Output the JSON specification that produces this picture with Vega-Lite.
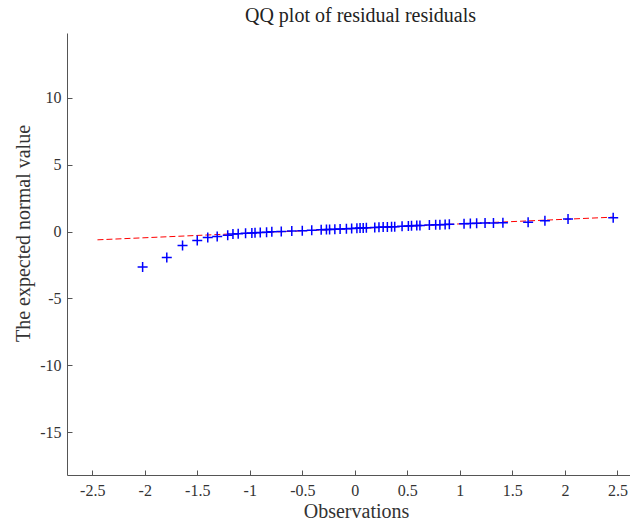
{
  "$schema": "https://vega.github.io/schema/vega-lite/v6.json",
  "width": 563,
  "height": 442,
  "autosize": "none",
  "padding": {"left": 67, "top": 33, "right": 0, "bottom": 46},
  "background": "white",
  "title": {
    "text": "QQ plot of residual residuals",
    "font": "Liberation Serif",
    "fontSize": 20,
    "fontWeight": "normal",
    "color": "#222222",
    "offset": 7,
    "dx": 12
  },
  "config": {
    "view": {"stroke": null},
    "axis": {
      "grid": false,
      "domainColor": "#555555",
      "tickColor": "#555555",
      "tickSize": -5,
      "labelFont": "Liberation Serif",
      "labelFontSize": 16,
      "labelColor": "#333333",
      "titleFont": "Liberation Serif",
      "titleFontSize": 20,
      "titleFontWeight": "normal",
      "titleColor": "#333333"
    }
  },
  "datasets": {
    "pts": [
      {"x": -2.02, "y": -2.65}, {"x": -1.79, "y": -1.94}, {"x": -1.64, "y": -1.04},
      {"x": -1.50, "y": -0.67}, {"x": -1.40, "y": -0.45}, {"x": -1.31, "y": -0.36},
      {"x": -1.21, "y": -0.28}, {"x": -1.16, "y": -0.18}, {"x": -1.11, "y": -0.16},
      {"x": -1.04, "y": -0.13}, {"x": -0.98, "y": -0.10}, {"x": -0.95, "y": -0.08},
      {"x": -0.90, "y": -0.06}, {"x": -0.84, "y": -0.04}, {"x": -0.79, "y": -0.02},
      {"x": -0.70, "y": 0.01}, {"x": -0.60, "y": 0.04}, {"x": -0.50, "y": 0.07},
      {"x": -0.41, "y": 0.10}, {"x": -0.32, "y": 0.13}, {"x": -0.27, "y": 0.15},
      {"x": -0.24, "y": 0.16}, {"x": -0.19, "y": 0.18}, {"x": -0.14, "y": 0.19},
      {"x": -0.08, "y": 0.21}, {"x": -0.03, "y": 0.23}, {"x": 0.02, "y": 0.25},
      {"x": 0.05, "y": 0.26}, {"x": 0.08, "y": 0.27}, {"x": 0.11, "y": 0.28},
      {"x": 0.19, "y": 0.31}, {"x": 0.23, "y": 0.32}, {"x": 0.27, "y": 0.34},
      {"x": 0.31, "y": 0.35}, {"x": 0.35, "y": 0.36}, {"x": 0.38, "y": 0.37},
      {"x": 0.45, "y": 0.40}, {"x": 0.51, "y": 0.42}, {"x": 0.54, "y": 0.43},
      {"x": 0.59, "y": 0.45}, {"x": 0.62, "y": 0.46}, {"x": 0.71, "y": 0.49},
      {"x": 0.77, "y": 0.51}, {"x": 0.81, "y": 0.52}, {"x": 0.86, "y": 0.54},
      {"x": 0.90, "y": 0.55}, {"x": 1.04, "y": 0.59}, {"x": 1.10, "y": 0.61},
      {"x": 1.16, "y": 0.62}, {"x": 1.24, "y": 0.64}, {"x": 1.32, "y": 0.65},
      {"x": 1.41, "y": 0.67}, {"x": 1.65, "y": 0.69}, {"x": 1.81, "y": 0.82},
      {"x": 2.03, "y": 0.95}, {"x": 2.46, "y": 1.04}
    ],
    "ref": [
      {"x": -2.45, "y": -0.615},
      {"x": 2.46, "y": 1.08}
    ]
  },
  "layer": [
    {
      "data": {"name": "ref"},
      "mark": {"type": "line", "color": "#ff0000", "strokeWidth": 1, "strokeDash": [6, 3]},
      "encoding": {
        "x": {
          "field": "x", "type": "quantitative",
          "scale": {"domain": [-2.74, 2.62], "nice": false, "zero": false},
          "axis": {
            "title": "Observations",
            "values": [-2.5, -2, -1.5, -1, -0.5, 0, 0.5, 1, 1.5, 2, 2.5],
            "labelExpr": "'' + datum.value",
            "labelPadding": 12,
            "titlePadding": 3,
            "titleX": 289
          }
        },
        "y": {
          "field": "y", "type": "quantitative",
          "scale": {"domain": [-18.2, 14.85], "nice": false, "zero": false},
          "axis": {
            "title": "The expected normal value",
            "values": [-15, -10, -5, 0, 5, 10],
            "labelExpr": "'' + datum.value",
            "labelPadding": 11,
            "titlePadding": 6,
            "titleY": 200
          }
        }
      }
    },
    {
      "data": {"name": "pts"},
      "mark": {
        "type": "point",
        "shape": "M-1,0L1,0M0,-1L0,1",
        "filled": false,
        "stroke": "#0000ff",
        "strokeWidth": 1.5,
        "size": 100,
        "opacity": 1
      },
      "encoding": {
        "x": {"field": "x", "type": "quantitative"},
        "y": {"field": "y", "type": "quantitative"}
      }
    }
  ]
}
